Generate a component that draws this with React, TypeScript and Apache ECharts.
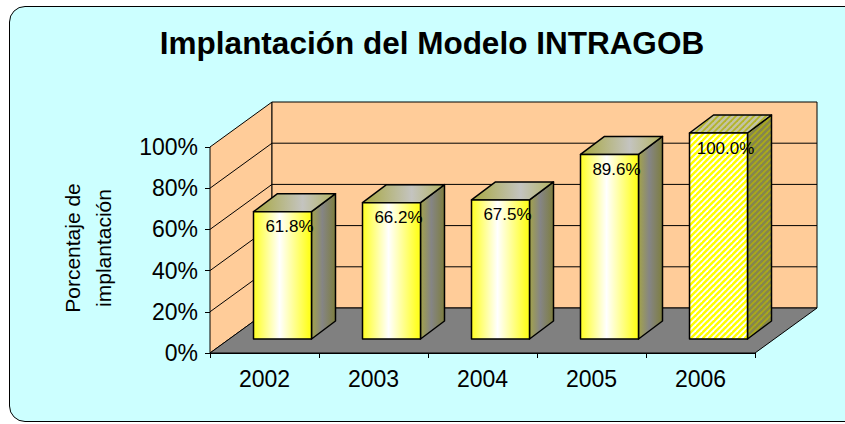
import React, { useEffect, useRef } from "react";
import * as echarts from "echarts";

const categories = ["2002", "2003", "2004", "2005", "2006"];
const values = [61.8, 66.2, 67.5, 89.6, 100.0];
const valueLabels = ["61.8%", "66.2%", "67.5%", "89.6%", "100.0%"];
const yTicks = [0, 20, 40, 60, 80, 100];
const hatchedCategory = "2006";
const titleText = "Implantación del Modelo INTRAGOB";
const yAxisTitle = "Porcentaje de\nimplantación";

const FONT = "'Liberation Sans', Arial, sans-serif";

function makeStripes(bg: string, fg: string, size: number, lw: number): string {
  const c = document.createElement("canvas");
  c.width = size;
  c.height = size;
  const ctx = c.getContext("2d");
  if (!ctx) return "";
  ctx.fillStyle = bg;
  ctx.fillRect(0, 0, size, size);
  ctx.strokeStyle = fg;
  ctx.lineWidth = lw;
  for (const o of [-size, 0, size]) {
    ctx.beginPath();
    ctx.moveTo(o - 1, size + 1);
    ctx.lineTo(o + size + 1, -1);
    ctx.stroke();
  }
  return c.toDataURL();
}

export default function App() {
  const ref = useRef<HTMLDivElement>(null);

  useEffect(() => {
    if (!ref.current) return;
    const chart = echarts.init(ref.current, undefined, { renderer: "svg" });

    const P = 6;
    const frontPat = { image: makeStripes("#FFFF00", "#FFFFFF", P, 1.8), repeat: "repeat", imageWidth: P, imageHeight: P };
    const sidePat = { image: makeStripes("#86864E", "#AAAA1A", P, 1.8), repeat: "repeat", imageWidth: P, imageHeight: P };
    const topPat = { image: makeStripes("#C4C4A4", "#B4B428", P, 1.8), repeat: "repeat", imageWidth: P, imageHeight: P };

    const WALL_DX = 62;
    const WALL_DY = -45;
    const BAR_OX = 18;
    const BAR_OY = -14;
    const BAR_DX = 24;
    const BAR_DY = -18;

    const wallsRender = (params: any, api: any) => {
      const n = categories.length;
      const bw = api.size([1, 0])[0];
      const x0 = api.coord([0, 0])[0] - bw / 2;
      const x1 = api.coord([n - 1, 0])[0] + bw / 2;
      const y = (v: number) => api.coord([0, v])[1];
      const yMin = y(yTicks[0]);
      const yMax = y(yTicks[yTicks.length - 1]);
      const children: any[] = [];
      children.push({
        type: "polygon",
        shape: { points: [[x0, yMax], [x0 + WALL_DX, yMax + WALL_DY], [x0 + WALL_DX, yMin + WALL_DY], [x0, yMin]] },
        style: { fill: "#FFCC99", stroke: "#000", lineWidth: 1 },
      });
      children.push({
        type: "rect",
        shape: { x: x0 + WALL_DX, y: yMax + WALL_DY, width: x1 - x0, height: yMin - yMax },
        style: { fill: "#FFCC99", stroke: "#000", lineWidth: 1 },
      });
      children.push({
        type: "polygon",
        shape: { points: [[x0, yMin], [x0 + WALL_DX, yMin + WALL_DY], [x1 + WALL_DX, yMin + WALL_DY], [x1, yMin]] },
        style: { fill: "#808080", stroke: "#000", lineWidth: 1 },
      });
      yTicks.slice(1, -1).forEach((v) => {
        const yy = y(v);
        children.push({
          type: "line",
          shape: { x1: x0, y1: yy, x2: x0 + WALL_DX, y2: yy + WALL_DY },
          style: { stroke: "#000", lineWidth: 1 },
        });
        children.push({
          type: "line",
          shape: { x1: x0 + WALL_DX, y1: yy + WALL_DY, x2: x1 + WALL_DX, y2: yy + WALL_DY },
          style: { stroke: "#000", lineWidth: 1 },
        });
      });
      return { type: "group", children };
    };

    const barsRender = (params: any, api: any) => {
      const i = api.value(0);
      const v = api.value(1);
      const top = api.coord([i, v]);
      const base = api.coord([i, 0]);
      const bw = api.size([1, 0])[0];
      const half = bw * 0.266;
      const cx = top[0] + BAR_OX;
      const L = cx - half;
      const R = cx + half;
      const T = top[1] + BAR_OY;
      const B = base[1] + BAR_OY;
      const hatched = categories[i] === hatchedCategory;
      const frontFill = hatched
        ? frontPat
        : new echarts.graphic.LinearGradient(0, 0, 1, 0, [
            { offset: 0, color: "#FFFF22" },
            { offset: 0.45, color: "#FFFFFF" },
            { offset: 0.95, color: "#FFFF22" },
            { offset: 1, color: "#FFFF22" },
          ]);
      const sideFill = hatched
        ? sidePat
        : new echarts.graphic.LinearGradient(0, 0, 1, 0, [
            { offset: 0, color: "#A3A34A" },
            { offset: 0.45, color: "#858585" },
            { offset: 1, color: "#7E7E3E" },
          ]);
      const topFill = hatched
        ? topPat
        : new echarts.graphic.LinearGradient(0, 0, 1, 0, [
            { offset: 0, color: "#A8A840" },
            { offset: 0.6, color: "#C4C4C0" },
            { offset: 1, color: "#B4B460" },
          ]);
      const stroke = { stroke: "#000", lineWidth: 1.5, lineJoin: "round" };
      return {
        type: "group",
        children: [
          {
            type: "polygon",
            shape: { points: [[R, T], [R + BAR_DX, T + BAR_DY], [R + BAR_DX, B + BAR_DY], [R, B]] },
            style: { fill: sideFill, ...stroke },
          },
          {
            type: "polygon",
            shape: { points: [[L, T], [L + BAR_DX, T + BAR_DY], [R + BAR_DX, T + BAR_DY], [R, T]] },
            style: { fill: topFill, ...stroke },
          },
          {
            type: "rect",
            shape: { x: L, y: T, width: R - L, height: B - T },
            style: { fill: frontFill, ...stroke },
          },
          {
            type: "text",
            x: cx + 7,
            y: T + 15,
            style: {
              text: valueLabels[i],
              fill: "#000",
              font: `17px ${FONT}`,
              align: "center",
              verticalAlign: "middle",
            },
          },
        ],
      };
    };

    chart.setOption({
      animation: false,
      backgroundColor: "transparent",
      grid: { left: 210, right: 90, top: 147, bottom: 71, containLabel: false },
      xAxis: {
        type: "category",
        data: categories,
        axisLine: { show: true, lineStyle: { color: "#000", width: 1 } },
        axisTick: { show: true, length: 5, interval: 0, lineStyle: { color: "#000" } },
        axisLabel: { color: "#000", fontSize: 23, fontFamily: FONT, margin: 14 },
        splitLine: { show: false },
      },
      yAxis: {
        type: "value",
        min: 0,
        max: 100,
        interval: 20,
        axisLine: { show: true, lineStyle: { color: "#000", width: 1 } },
        axisTick: { show: true, length: 5, lineStyle: { color: "#000" } },
        axisLabel: { color: "#000", fontSize: 23, fontFamily: FONT, margin: 12, formatter: "{value}%" },
        splitLine: { show: false },
      },
      graphic: [
        {
          type: "text",
          x: 432,
          y: 43,
          style: {
            text: titleText,
            fill: "#000",
            font: `bold 31.5px ${FONT}`,
            align: "center",
            verticalAlign: "middle",
          },
        },
        {
          type: "text",
          x: 88,
          y: 248,
          rotation: Math.PI / 2,
          style: {
            text: yAxisTitle,
            fill: "#000",
            font: `21px ${FONT}`,
            lineHeight: 31,
            align: "center",
            verticalAlign: "middle",
          },
        },
      ],
      series: [
        {
          type: "custom",
          z: 1,
          silent: true,
          renderItem: wallsRender,
          data: [[0, 0]],
          encode: { x: 0, y: 1 },
        },
        {
          type: "custom",
          z: 3,
          silent: true,
          renderItem: barsRender,
          data: values.map((v, i) => [i, v]),
          encode: { x: 0, y: 1 },
        },
      ],
    });

    return () => chart.dispose();
  }, []);

  return (
    <div style={{ position: "fixed", left: 0, top: 0, width: 845, height: 424, background: "#fff", overflow: "hidden" }}>
      <div
        style={{
          position: "absolute",
          left: 9,
          top: 6,
          width: 850,
          height: 414,
          border: "1px solid #000",
          borderRadius: 16,
          background: "#CCFFFF",
        }}
      />
      <div ref={ref} style={{ position: "absolute", left: 0, top: 0, width: 845, height: 424 }} />
    </div>
  );
}
